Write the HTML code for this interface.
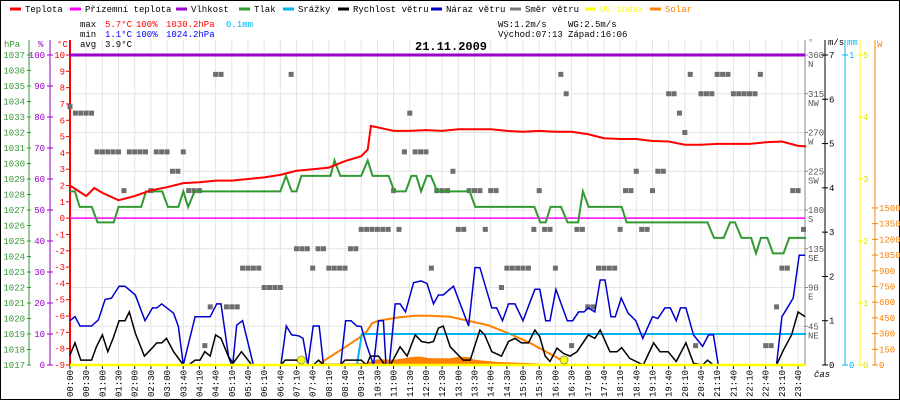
<!DOCTYPE html>
<html><head><meta charset="utf-8"><style>
html,body{margin:0;padding:0;background:#fff}
svg{display:block}
text{font-family:"Liberation Mono","DejaVu Sans Mono",monospace;font-size:9px}
</style></head><body>
<svg id="c" width="900" height="400" viewBox="0 0 900 400" xmlns="http://www.w3.org/2000/svg">
<rect x="0.5" y="0.5" width="899" height="399" fill="#fff" stroke="#000"/>
<g id="grid"></g>
<g id="legend"></g>
<g>
<text x="80" y="27">max</text><text x="105" y="27" fill="#f00">5.7°C</text><text x="136" y="27" fill="#f00">100%</text><text x="166" y="27" fill="#f00">1030.2hPa</text><text x="226" y="27" fill="#00b4f0">0.1mm</text>
<text x="80" y="37">min</text><text x="105" y="37" fill="#00f">1.1°C</text><text x="136" y="37" fill="#00f">100%</text><text x="166" y="37" fill="#00f">1024.2hPa</text>
<text x="80" y="47">avg</text><text x="105" y="47">3.9°C</text>
<text x="498" y="27">WS:1.2m/s</text><text x="568" y="27">WG:2.5m/s</text>
<text x="498" y="37">Východ:07:13</text><text x="568" y="37">Západ:16:06</text>
</g>
<text x="415" y="50" style="font-size:12px;font-weight:bold">21.11.2009</text>
<g id="axes"></g>
<g id="plot"></g>
</svg>
<script>
const labels=["00:00","00:30","01:00","01:30","02:00","02:30","03:00","03:40","04:10","04:40","05:10","05:40","06:10","06:40","07:10","07:40","08:10","08:40","09:10","10:30","11:00","11:30","12:00","12:30","13:00","13:30","14:00","14:30","15:00","15:30","16:00","16:30","17:00","17:40","18:10","18:40","19:10","19:40","20:10","20:40","21:10","21:40","22:10","22:40","23:10","23:40"];
// sample index (10-min samples, 3 per label)
const tempT=[0,3,4.5,6,9,12,15,18,21,24,27,30,33,36,39,42,45,48,51,54,55.2,55.8,57,60,63,66,69,72,75,78,81,84,87,90,93,96,99,102,105,108,111,114,117,120,123,126,129,132,135,136.5];
const tempV=[2.0,1.35,1.85,1.55,1.1,1.35,1.7,1.9,2.15,2.2,2.3,2.3,2.4,2.5,2.65,2.9,3.0,3.1,3.5,3.8,4.2,5.65,5.57,5.35,5.35,5.4,5.35,5.45,5.45,5.45,5.35,5.3,5.35,5.3,5.3,5.15,4.9,4.85,4.85,4.73,4.7,4.5,4.5,4.55,4.55,4.55,4.65,4.7,4.43,4.4];
const presT=[0,0.9,1.8,4.05,5.1,8.1,9,13.2,14.1,17.1,18.15,20.1,21,21.9,23.1,39,40.05,41.1,42,42.9,48.3,49.05,50.1,54,55.2,56.1,59.1,60.15,62.25,63.3,64.2,65.1,66.15,66.9,68.1,74.1,75.15,86.1,87.2,88.2,89.1,91.05,92.25,94.2,95.1,96.15,102.3,103.2,118.2,119.4,121.2,122.4,123.3,124.5,126.3,127.2,128.1,129.3,130.35,132.3,133.35,136.5];
const presV=[1028.2,1028.2,1027.2,1027.2,1026.2,1026.2,1027.2,1027.2,1028.2,1028.2,1027.2,1027.2,1028.2,1027.2,1028.2,1028.2,1029.2,1028.2,1028.2,1029.2,1029.2,1030.2,1029.2,1029.2,1030.2,1029.2,1029.2,1028.2,1028.2,1029.2,1029.2,1028.2,1029.2,1029.2,1028.2,1028.2,1027.2,1027.2,1026.2,1026.2,1027.2,1027.2,1026.2,1026.2,1028.2,1027.2,1027.2,1026.2,1026.2,1025.2,1025.2,1026.2,1026.2,1025.2,1025.2,1024.2,1025.2,1025.2,1024.2,1024.2,1025.2,1025.2];
const gustT=[0,0.93,1.86,4,5.26,6.5,7.7,9.1,10.2,12.1,13.9,15.3,16.1,17,19.2,20.1,21,23.2,26,27.2,28,29.4,30.2,30.9,32,34,39.1,40.1,41.1,42.4,43.2,44.1,45.1,46.2,47,50.2,51.1,52.1,53.2,54,55,56.3,57.2,58.1,58.6,59.2,60.3,61.2,62.2,63.7,65.1,66.2,67.4,68.3,69.2,71.1,73.9,75.1,76,78.2,79.1,80.2,81.3,82.5,84,86.2,87.1,88.2,89,90.1,92.2,93.2,94.3,95.3,96.1,97.3,98.3,99.2,100.3,101.1,102.2,103.5,104.9,106.2,108,109,110.3,111.3,112.4,113.2,114.2,115.6,117.3,118.4,119.3,120.2,131,132,132.9,134.1,135.2,136.3];
const gustV=[1.0,1.09,0.88,0.88,1.02,1.48,1.51,1.78,1.78,1.58,1.0,1.29,1.29,1.38,1.17,0.87,0,1.09,1.09,1.38,1.38,0.19,0.05,0.9,1.0,0,0,0.88,0.68,0.66,0.6,0,0.88,0.88,0,0,1.0,1.0,0.88,0.87,0.45,0,1.0,1.0,0,0,1.38,1.38,1.2,1.86,1.9,1.84,1.38,1.58,1.58,1.78,0.88,2.2,2.2,1.29,1.29,1.0,1.38,1.38,1.0,1.71,1.71,1.0,1.0,1.71,1.0,1.0,1.2,1.2,1.29,1.2,1.92,1.92,1.09,1.09,1.51,1.17,1.0,0.6,1.09,1.05,1.29,1.29,1.0,1.29,1.29,0.68,0.42,0.68,0.68,0,0,1.09,1.27,1.51,2.48,2.48];
const windT=[0,0.93,2,4,4.9,6,7,8,9.1,10.2,11,12.1,13.8,15.2,16.1,17,17.9,19.2,21,22,23.2,24.1,25,26,27,28,30,31.8,33.7,39.1,39.9,42,43.1,45.1,46.1,47,50.1,51,54,55,55.7,57.2,58.4,59.4,61.2,62.5,64,65.2,66.5,67.4,68.3,69.2,70.5,72.9,74.2,76,76.9,78.2,80,81.3,82.5,83.7,85,86.2,87.1,88.1,89,90.3,91.5,92.7,94,96.1,97.3,98.3,100.1,101.4,102.3,103.8,106.3,108.2,109.4,110.9,112.4,114.2,115.6,117.3,118.2,119.3,131,132.3,133.8,135,136.3];
const windV=[0.23,0.5,0.11,0.11,0.41,0.68,0.3,0.6,1.0,1.0,1.2,0.72,0.2,0.38,0.5,0.5,0.6,0.3,0,0,0.11,0.11,0.3,0.2,0.68,0.6,0,0.3,0,0,0.11,0.11,0,0,0.11,0,0,0.11,0.11,0,0.2,0.2,0,0,0.41,0.2,0.68,0.53,0.5,0.53,0.83,0.88,0.41,0.11,0.11,0.79,0.68,0.3,0.2,0.53,0.6,0.5,0.5,0.79,0.64,0.2,0.08,0.38,0.26,0.2,0.3,0.68,0.6,0.79,0.3,0.3,0.39,0.15,0,0.5,0.3,0.3,0.08,0.5,0.04,0,0.11,0,0,0.34,0.68,1.2,1.09];
const rainT=[53.2,54.1,136.5];
const rainV=[0,0.1,0.1];
const solarT=[46.1,47.3,50.4,53.5,55,56,57.2,60.9,64,66.7,70.5,73.6,77.5,81.3,85.2,88.3,91.1,92.3];
const solarV=[0,48,150,255,318,398,423,455,470,470,460,425,380,303,213,127,48,0];
const radT=[46.5,47,52,55,57,60,62,64,65,66.7,70.5,72.3,74,75,79,81.6,86.5,91.4];
const radV=[0,15,15,20,55,50,65,80,80,65,65,80,75,50,30,25,15,0];
const dirS=[0,1,2,3,4,5,6,7,8,9,10,11,12,13,14,15,16,17,18,19,20,21,22,23,24,25,26,27,28,29,30,31,32,33,34,35,36,37,38,39,41,42,43,44,45,46,47,48,49,50,51,52,53,54,55,56,57,58,59,60,61,62,63,64,65,66,67,68,69,70,71,72,73,74,75,76,77,78,79,80,81,82,83,84,85,86,87,88,89,90,91,92,93,94,95,96,97,98,99,100,101,102,103,104,105,106,107,108,109,110,111,112,113,114,115,116,117,118,119,120,121,122,123,124,125,126,127,128,129,130,131,132,133,134,135,136];
const dirV=[300,292.5,292.5,292.5,292.5,247.5,247.5,247.5,247.5,247.5,202.5,247.5,247.5,247.5,247.5,202.5,247.5,247.5,247.5,225,225,247.5,202.5,202.5,202.5,22.5,67.5,337.5,337.5,67.5,67.5,67.5,112.5,112.5,112.5,112.5,90,90,90,90,337.5,135,135,135,112.5,135,135,112.5,112.5,112.5,112.5,135,135,157.5,157.5,157.5,157.5,157.5,157.5,202.5,157.5,247.5,292.5,247.5,247.5,247.5,112.5,202.5,202.5,202.5,225,157.5,157.5,202.5,202.5,202.5,157.5,202.5,202.5,90,112.5,112.5,112.5,112.5,112.5,157.5,202.5,157.5,157.5,112.5,337.5,315,22.5,157.5,157.5,67.5,67.5,112.5,112.5,112.5,112.5,157.5,202.5,202.5,225,157.5,157.5,202.5,225,225,315,315,292.5,270,337.5,22.5,315,315,315,337.5,337.5,337.5,315,315,315,315,315,337.5,22.5,22.5,67.5,112.5,112.5,202.5,202.5,157.5];
const uvMarkT=[42.9,91.6];
const hpaTicks=[1017,1018,1019,1020,1021,1022,1023,1024,1025,1026,1027,1028,1029,1030,1031,1032,1033,1034,1035,1036,1037];
const pctTicks=[0,10,20,30,40,50,60,70,80,90,100];
const tempTicks=[-9,-8,-7,-6,-5,-4,-3,-2,-1,0,1,2,3,4,5,6,7,8,9,10];
const dirTicks=[45,90,135,180,225,270,315,360];
const dirNames=["NE","E","SE","S","SW","W","NW","N"];
const msTicks=[0,1,2,3,4,5,6,7];
const mmTicks=[0,1];
const uvTicks=[0,1,2,3,4,5];
const wTicks=[0,150,300,450,600,750,900,1050,1200,1350,1500];

const NS="http://www.w3.org/2000/svg";
const X0=70,X1=805,Y0=365,YT=55,STEP=16.18/3;
const xs=s=>X0+s*STEP;
const yT=v=>Y0-(v+9)*(Y0-YT)/19;
const yP=v=>Y0-(v-1017)*(Y0-YT)/20;
const yPct=v=>Y0-v*(Y0-YT)/100;
const yW=v=>Y0-v*(Y0-YT)/7;
const yD=v=>Y0-v*(Y0-YT)/360;
const yMM=v=>Y0-v*(Y0-YT);
const yUV=v=>Y0-v*(Y0-YT)/5;
const ySol=v=>Y0-v*0.1047;
function el(tag,attrs,parent,txt){const e=document.createElementNS(NS,tag);for(const k in attrs)e.setAttribute(k,attrs[k]);if(txt!==undefined)e.textContent=txt;parent.appendChild(e);return e;}
const grid=document.getElementById('grid'),axes=document.getElementById('axes'),plot=document.getElementById('plot'),legend=document.getElementById('legend');

// grid
labels.forEach((l,i)=>{const x=xs(i*3);
 const g=el('line',{x1:x,x2:x,y1:40,y2:Y0,stroke:'#e4e4e4','stroke-width':1},grid);
 
 const tk=el('line',{x1:x,x2:x,y1:Y0,y2:Y0+4,stroke:'#000'},axes);
 
 const t=el('text',{x:0,y:0,transform:`translate(${x+3},397) rotate(-90)`},axes,l);
 
});
dirTicks.forEach(d=>{const y=yD(d);const g=el('line',{x1:X0,x2:X1,y1:y,y2:y,stroke:'#e4e4e4'},grid);
 });

// legend
const leg=[["Teplota","#f00",10],["Přízemní teplota","#f0f",70],["Vlhkost","#90c",176],["Tlak","#393",239],["Srážky","#00b4f0",283],["Rychlost větru","#000",338],["Náraz větru","#00c",431],["Směr větru","#777",510],["UV index","#ff0",585],["Solar","#ff8000",650]];
leg.forEach(([n,c,x])=>{const g=el('g',{},legend);
 
 el('line',{x1:x,x2:x+11,y1:9,y2:9,stroke:c,'stroke-width':3},g);
 el('text',{x:x+15,y:12,fill:(c=="#ff0"||c=="#ff8000")?c:'#000'},g,n);});

// left axes
el('text',{x:4,y:47,fill:'#393'},axes,'hPa');
el('text',{x:38,y:47,fill:'#90c'},axes,'%');
el('text',{x:57,y:47,fill:'#f00'},axes,'°C');
el('line',{x1:29,x2:29,y1:40,y2:Y0,stroke:'#393'},axes);
el('line',{x1:50,x2:50,y1:40,y2:Y0,stroke:'#90c'},axes);
el('line',{x1:X0,x2:X0,y1:40,y2:Y0,stroke:'#f00','stroke-width':2},axes);
hpaTicks.forEach(v=>{const y=yP(v);el('line',{x1:27,x2:31,y1:y,y2:y,stroke:'#393'},axes);
 const t=el('text',{x:25,y:y+3,fill:'#393','text-anchor':'end'},axes,v);});
pctTicks.forEach(v=>{const y=yPct(v);el('line',{x1:47,x2:53,y1:y,y2:y,stroke:'#90c'},axes);
 const t=el('text',{x:45,y:y+3,fill:'#90c','text-anchor':'end'},axes,v);});
tempTicks.forEach(v=>{const y=yT(v);el('line',{x1:66,x2:70,y1:y,y2:y,stroke:'#f00'},axes);
 const t=el('text',{x:65,y:y+3,fill:'#f00','text-anchor':'end'},axes,v);});

// right axes
el('text',{x:808,y:45,fill:'#777'},axes,'°');
el('text',{x:828,y:45},axes,'m/s');
el('text',{x:847,y:45,fill:'#00b4f0'},axes,'mm');
el('text',{x:877,y:47,fill:'#ff8000'},axes,'W');
el('line',{x1:X1,x2:X1,y1:40,y2:Y0,stroke:'#888'},axes);
el('line',{x1:825,x2:825,y1:40,y2:Y0,stroke:'#000'},axes);
el('line',{x1:845,x2:845,y1:40,y2:Y0,stroke:'#00b4f0'},axes);
el('line',{x1:860,x2:860,y1:40,y2:Y0,stroke:'#ff0'},axes);
el('line',{x1:875,x2:875,y1:40,y2:Y0,stroke:'#ff8000'},axes);
dirTicks.forEach((v,i)=>{const y=yD(v);el('line',{x1:X1,x2:X1+3,y1:y,y2:y,stroke:'#888'},axes);
 el('text',{x:808,y:y+3,fill:'#555'},axes,v);el('text',{x:808,y:y+12,fill:'#555'},axes,dirNames[i]);});
msTicks.forEach(v=>{const y=yW(v);el('line',{x1:822,x2:828,y1:y,y2:y,stroke:'#000'},axes);el('text',{x:829,y:y+3},axes,v);});
mmTicks.forEach(v=>{const y=yMM(v);el('line',{x1:842,x2:848,y1:y,y2:y,stroke:'#00b4f0'},axes);el('text',{x:849,y:y+3,fill:'#00b4f0'},axes,v);});
uvTicks.forEach(v=>{const y=yUV(v);el('line',{x1:857,x2:863,y1:y,y2:y,stroke:'#ff0'},axes);el('text',{x:863,y:y+3,fill:'#dd0'},axes,v);});
wTicks.forEach(v=>{const y=ySol(v);el('line',{x1:872,x2:878,y1:y,y2:y,stroke:'#ff8000'},axes);el('text',{x:879,y:y+3,fill:'#ff8000'},axes,v);});
el('text',{x:814,y:377,'font-style':'italic'},axes,'čas');

// series
function path(T,V,yf){return T.map((t,i)=>(i?'L':'M')+xs(t).toFixed(1)+' '+yf(V[i]).toFixed(1)).join(' ');}
let p;
p=el('path',{d:'M'+xs(radT[0])+' '+Y0+' '+path(radT,radV,ySol).replace('M','L')+' L'+xs(radT[radT.length-1])+' '+Y0+' Z',fill:'#ff8000'},plot);

el('line',{x1:X0,x2:X1,y1:yPct(100),y2:yPct(100),stroke:'#90c','stroke-width':3},plot);
el('line',{x1:X0,x2:X1,y1:yT(0),y2:yT(0),stroke:'#f0f','stroke-width':1.5},plot);
dirS.forEach((s,i)=>{const r=el('rect',{x:xs(s)-2.5,y:yD(dirV[i])-2.5,width:5,height:5,fill:'#6e6e6e'},plot);
 });
p=el('path',{d:path(presT,presV,yP),fill:'none',stroke:'#393','stroke-width':2},plot);
p=el('path',{d:path(tempT,tempV,yT),fill:'none',stroke:'#f00','stroke-width':2},plot);
p=el('path',{d:path(solarT,solarV,ySol),fill:'none',stroke:'#ff8000','stroke-width':2},plot);
p=el('path',{d:path(rainT,rainV,yMM),fill:'none',stroke:'#00b4f0','stroke-width':2},plot);
p=el('path',{d:path(gustT,gustV,yW),fill:'none',stroke:'#00c','stroke-width':1.5},plot);
p=el('path',{d:path(windT,windV,yW),fill:'none',stroke:'#000','stroke-width':1.5},plot);
p=el('line',{x1:X0,x2:X1,y1:Y0,y2:Y0,stroke:'#ff0','stroke-width':2.5},plot);
uvMarkT.forEach(t=>{const c=el('circle',{cx:xs(t),cy:Y0-5,r:4,fill:'#ff0',stroke:'#886',"stroke-width":0.8},plot);
 });
</script>
</body></html>
